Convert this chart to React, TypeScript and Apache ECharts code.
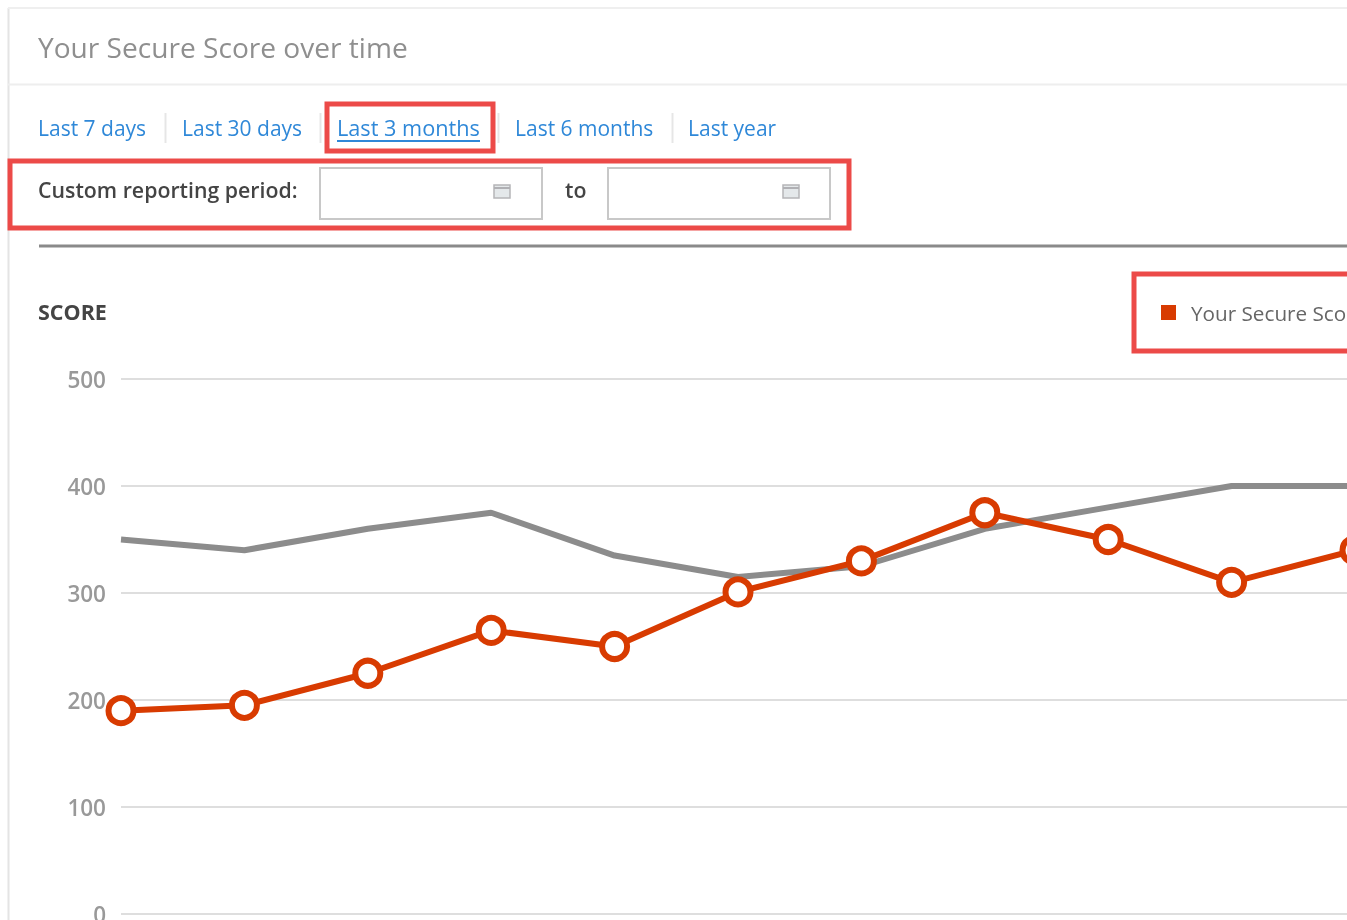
import React, { useEffect, useRef } from "react";
import * as echarts from "echarts";

const periods = ["P1", "P2", "P3", "P4", "P5", "P6", "P7", "P8", "P9", "P10", "P11"];
const yourScore = [190, 195, 225, 265, 250, 301, 330, 375, 350, 310, 340];
const averageScore = [350, 340, 360, 375, 335, 315, 325, 360, 380, 400, 400];
const yTicks = { min: 0, max: 500, interval: 100 };

const FONT = "'Open Sans', 'Noto Sans', sans-serif";
const RED = "#ec4a48";
const BLUE = "#2f88d8";
const SEP = "#e6e6e6";

const links = [
  { text: "Last 7 days", x: 38, y: 128, size: 21 },
  { text: "Last 30 days", x: 182, y: 128, size: 21 },
  { text: "Last 3 months", x: 337, y: 127.5, size: 21.7 },
  { text: "Last 6 months", x: 515, y: 128, size: 21 },
  { text: "Last year", x: 688, y: 128, size: 21 },
];

function outline(x: number, y: number, width: number, height: number, stroke: string, lineWidth: number) {
  return { type: "rect", silent: true, shape: { x, y, width, height }, style: { fill: "none", stroke, lineWidth } };
}
function seg(x1: number, y1: number, x2: number, y2: number, stroke: string, lineWidth: number) {
  return { type: "line", silent: true, shape: { x1, y1, x2, y2 }, style: { stroke, lineWidth } };
}
function label(text: string, x: number, y: number, fill: string, size: number, weight: number | string = 400) {
  return {
    type: "text", silent: true, x, y,
    style: { text, fill, font: `${weight} ${size}px ${FONT}`, textVerticalAlign: "middle", verticalAlign: "middle" },
  };
}
function calendar(x: number, y: number) {
  return [
    { type: "rect", silent: true, shape: { x, y, width: 16, height: 13 }, style: { fill: "#e4e8ea", stroke: "#b5b5b8", lineWidth: 1.5 } },
    seg(x, y + 3, x + 16, y + 3, "#b0b0b4", 2),
  ];
}

export default function App() {
  const ref = useRef<HTMLDivElement>(null);
  useEffect(() => {
    document.body.style.margin = "0";
    const chart = echarts.init(ref.current!, null, { renderer: "svg" });
    chart.setOption({
      animation: false,
      backgroundColor: "#ffffff",
      grid: { left: 121, right: -8, top: 379, height: 535, outerBoundsMode: "none" },
      legend: {
        left: 1156, top: 297, icon: "rect", itemWidth: 15, itemHeight: 15, itemGap: 10,
        data: [{ name: "Your Secure Score", itemStyle: { color: "#d83b01", borderWidth: 0 } }],
        selectedMode: false,
        textStyle: { color: "#666", fontFamily: FONT, fontSize: 20.7, padding: [0, 0, 0, 10] },
      },
      xAxis: {
        type: "category", data: periods, boundaryGap: false,
        axisLine: { show: false }, axisTick: { show: false }, axisLabel: { show: false }, splitLine: { show: false },
      },
      yAxis: {
        type: "value", min: yTicks.min, max: yTicks.max, interval: yTicks.interval,
        axisLine: { show: false }, axisTick: { show: false },
        axisLabel: { color: "#999", fontFamily: FONT, fontSize: 22.5, fontWeight: 600, margin: 15 },
        splitLine: { show: true, lineStyle: { color: "#dedede", width: 2 } },
      },
      series: [
        {
          name: "Average", type: "line", data: averageScore, showSymbol: false, symbol: "none", z: 2,
          lineStyle: { color: "#8c8c8c", width: 6 }, itemStyle: { color: "#8c8c8c" },
        },
        {
          name: "Your Secure Score", type: "line", data: yourScore, symbol: "circle", symbolSize: 25, clip: false, z: 3,
          lineStyle: { color: "#d83b01", width: 6 },
          itemStyle: { color: "#ffffff", borderColor: "#d83b01", borderWidth: 6 },
        },
      ],
      graphic: {
        elements: [
          seg(8.5, 8, 8.5, 920, "#e4e4e4", 2),
          seg(8, 8, 1347, 8, "#efefef", 2),
          seg(8, 84.5, 1347, 84.5, "#eeeeee", 2),
          label("Your Secure Score over time", 38, 47, "#8f8f8f", 28.1),
          ...links.map((l) => label(l.text, l.x, l.y, BLUE, l.size)),
          seg(337, 141, 480, 141, BLUE, 2),
          seg(165.5, 113, 165.5, 143, SEP, 2),
          seg(320.5, 113, 320.5, 143, SEP, 2),
          seg(498.5, 113, 498.5, 143, SEP, 2),
          seg(672.5, 113, 672.5, 143, SEP, 2),
          outline(327, 104, 166, 47, RED, 5),
          outline(10, 161, 839, 67, RED, 5),
          label("Custom reporting period:", 38, 189, "#444", 21.3, 600),
          outline(320, 168, 222, 51, "#c8c8c8", 2),
          ...calendar(494, 185),
          label("to", 565, 189, "#444", 21.3, 600),
          outline(608, 168, 222, 51, "#c8c8c8", 2),
          ...calendar(783, 185),
          seg(39, 246, 1347, 246, "#8a8a8a", 3),
          label("SCORE", 38, 311, "#444", 21.5, 700),
          outline(1134, 274, 240, 77, RED, 5),
        ],
      },
    });
    return () => chart.dispose();
  }, []);
  return <div ref={ref} style={{ width: 1347, height: 920, filter: "blur(0.5px)" }} />;
}
